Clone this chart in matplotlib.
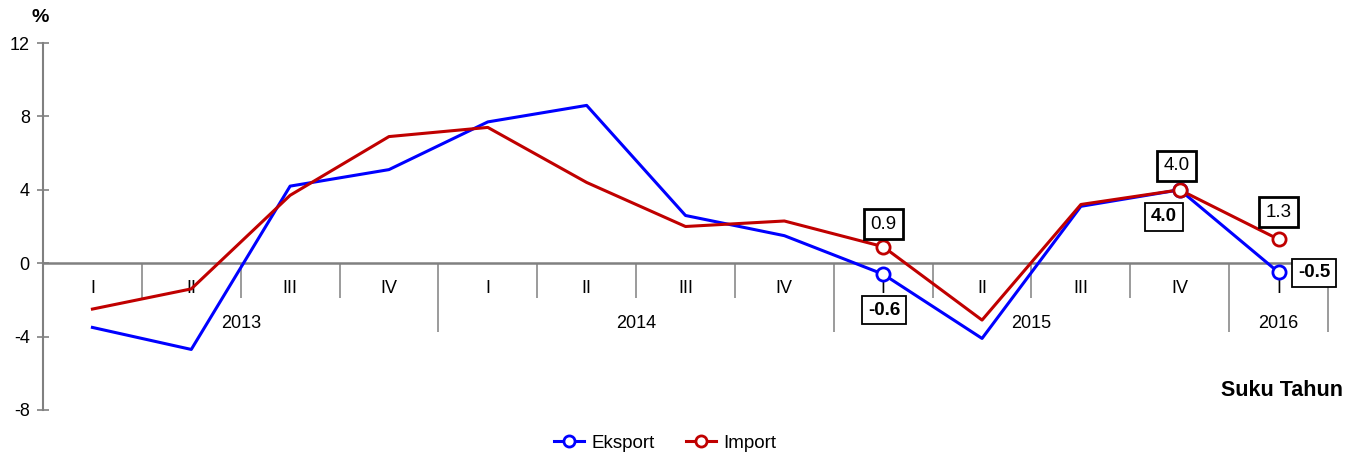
import matplotlib
matplotlib.use("Agg")
import matplotlib.pyplot as plt
from matplotlib.lines import Line2D

plt.rcParams['font.family'] = ['Liberation Sans', 'DejaVu Sans']

quarters = ["I", "II", "III", "IV", "I", "II", "III", "IV", "I", "II", "III", "IV", "I"]
years = ["2013", "2014", "2015", "2016"]
year_quarters = [4, 4, 4, 1]
eksport = [-3.5, -4.7, 4.2, 5.1, 7.7, 8.6, 2.6, 1.5, -0.6, -4.1, 3.1, 4.0, -0.5]
import_ = [-2.5, -1.4, 3.7, 6.9, 7.4, 4.4, 2.0, 2.3, 0.9, -3.1, 3.2, 4.0, 1.3]
marked = [8, 11, 12]  # indices with markers and value labels
yticks = [-8, -4, 0, 4, 8, 12]

BLUE = "#0000FF"
RED = "#C00000"
GRAY = "#808080"
FS = 13

fig = plt.figure(figsize=(13.58, 4.54), dpi=100)
ax = fig.add_axes([43/1358, 1-410/454, (1328-43)/1358, (410-43)/454])

n = len(quarters)
xs = [i + 0.5 for i in range(n)]

ax.set_xlim(0, n)
ax.set_ylim(-8, 12)

for s in ["top", "right", "bottom"]:
    ax.spines[s].set_visible(False)
ax.spines["left"].set_color(GRAY)
ax.spines["left"].set_linewidth(1.5)
ax.set_yticks(yticks)
ax.set_yticklabels([str(t) for t in yticks], fontsize=FS)
ax.tick_params(axis="y", direction="inout", length=9, width=1.2, color=GRAY, pad=5)
ax.set_xticks([])

# zero line and separators
ax.axhline(0, color=GRAY, lw=1.8, zorder=1)
year_bounds = []
c = 0
for q in year_quarters:
    c += q
    year_bounds.append(c)
for b in range(1, n + 1):
    if b in year_bounds:
        ax.vlines(b, -3.75, 0, color=GRAY, lw=1.1, zorder=1, clip_on=False)
    else:
        ax.vlines(b, -1.9, 0, color=GRAY, lw=1.1, zorder=1, clip_on=False)

for x, q in zip(xs, quarters):
    ax.text(x, -1.4, q, ha="center", va="center", fontsize=FS)

start = 0
for y, q in zip(years, year_quarters):
    ax.text(start + q / 2, -3.3, y, ha="center", va="center", fontsize=FS)
    start += q

ax.plot(xs, eksport, color=BLUE, lw=2.2, zorder=3)
ax.plot(xs, import_, color=RED, lw=2.2, zorder=4)
ax.plot([xs[i] for i in marked], [eksport[i] for i in marked], ls="none",
        marker="o", ms=9.5, mfc="white", mec=BLUE, mew=2, zorder=5)
ax.plot([xs[i] for i in marked], [import_[i] for i in marked], ls="none",
        marker="o", ms=9.5, mfc="white", mec=RED, mew=2, zorder=6)

# value labels
imp_offsets = {8: (0, 1.22), 11: (-0.03, 1.3), 12: (0.0, 1.47)}
exp_offsets = {8: (0.01, -1.96), 11: (-0.16, -1.48), 12: (0.36, -0.03)}
for i in marked:
    dx, dy = imp_offsets[i]
    ax.text(xs[i] + dx, import_[i] + dy, f"{import_[i]:.1f}", ha="center", va="center",
            fontsize=13.5, zorder=7,
            bbox=dict(boxstyle="square,pad=0.35", fc="white", ec="black", lw=2))
    dx, dy = exp_offsets[i]
    ax.text(xs[i] + dx, eksport[i] + dy, f"{eksport[i]:.1f}", ha="center", va="center",
            fontsize=13.5, fontweight="bold", zorder=7,
            bbox=dict(boxstyle="square,pad=0.3", fc="white", ec="black", lw=1.3))

fig.text(40/1358, 1-18/454, "%", fontsize=14, fontweight="bold", ha="center", va="center")
fig.text(1343/1358, 1-390/454, "Suku Tahun", fontsize=15.5, fontweight="bold", ha="right", va="center")

handles = [Line2D([], [], color=BLUE, lw=2.2, marker="o", ms=8, mfc="white", mec=BLUE, mew=2),
           Line2D([], [], color=RED, lw=2.2, marker="o", ms=8, mfc="white", mec=RED, mew=2)]
fig.legend(handles, ["Eksport", "Import"], loc="center", bbox_to_anchor=(665/1358, 1-443/454),
           ncol=2, frameon=False, fontsize=13.5, handlelength=1.6, columnspacing=1.65,
           handletextpad=0.4)

fig.savefig("out.png", dpi=100)
